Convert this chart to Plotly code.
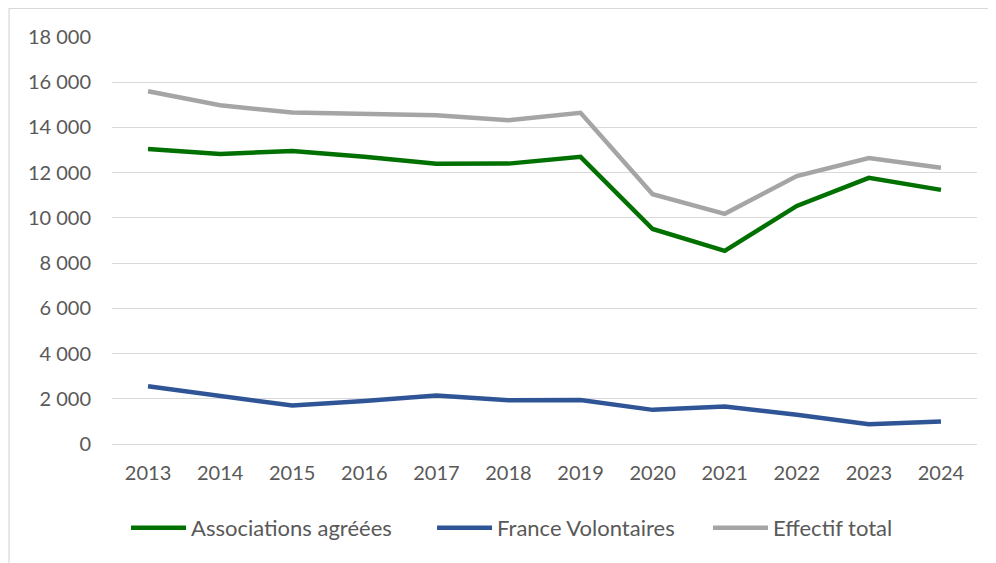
import plotly.graph_objects as go

# Données
annees = ['2013', '2014', '2015', '2016', '2017', '2018', '2019', '2020', '2021', '2022', '2023', '2024']
associations = [13050, 12830, 12960, 12700, 12390, 12400, 12700, 9510, 8540, 10530, 11770, 11240]
france_vol = [2550, 2150, 1700, 1900, 2150, 1930, 1950, 1510, 1660, 1290, 870, 1000]
total = [15600, 14980, 14660, 14600, 14540, 14320, 14650, 11050, 10180, 11850, 12650, 12220]
y_ticks = [0, 2000, 4000, 6000, 8000, 10000, 12000, 14000, 16000, 18000]

font = dict(family='Lato, Open Sans, sans-serif', size=20, color='#595959')

fig = go.Figure()
fig.add_trace(go.Scatter(x=annees, y=associations, mode='lines', name='Associations agréées',
                         line=dict(color='#007000', width=4.5), legend='legend'))
fig.add_trace(go.Scatter(x=annees, y=france_vol, mode='lines', name='France Volontaires',
                         line=dict(color='#2F5597', width=4.5), legend='legend2'))
fig.add_trace(go.Scatter(x=annees, y=total, mode='lines', name='Effectif total',
                         line=dict(color='#A5A5A5', width=4.5), legend='legend3'))

# une légende par série pour placer chaque entrée comme dans l'original
def leg(x):
    return dict(orientation='h', x=x, xanchor='left', y=-0.206, yanchor='middle',
                font=dict(size=22, color='#595959'), itemwidth=55, bgcolor='rgba(0,0,0,0)')

# la page html a une marge de 8 px : figure de 988 x 555
fig.update_layout(
    width=988, height=555,
    margin=dict(l=104, r=19, t=29, b=119, autoexpand=False),
    paper_bgcolor='white', plot_bgcolor='white',
    font=font,
    separators=', ',
    showlegend=True,
    legend=leg(0.0162),
    legend2=leg(0.370),
    legend3=leg(0.689),
    shapes=[dict(type='rect', xref='paper', yref='paper', x0=-0.119, x1=1.1, y0=-0.5, y1=1.07,
                 line=dict(color='#D9D9D9', width=1.2), layer='below')],
)
fig.update_xaxes(showgrid=False, showline=False, ticks='', range=[-0.5, 11.5],
                 tickfont=dict(size=20), ticklabelstandoff=15)
fig.update_yaxes(range=[0, 18000], tickvals=y_ticks, tickformat=',d', showgrid=True,
                 gridcolor='#D9D9D9', gridwidth=1.3, zeroline=True, zerolinecolor='#D9D9D9',
                 zerolinewidth=1.3, showline=False, ticks='', tickfont=dict(size=20),
                 ticklabelstandoff=20)

fig.write_html('out.html')
